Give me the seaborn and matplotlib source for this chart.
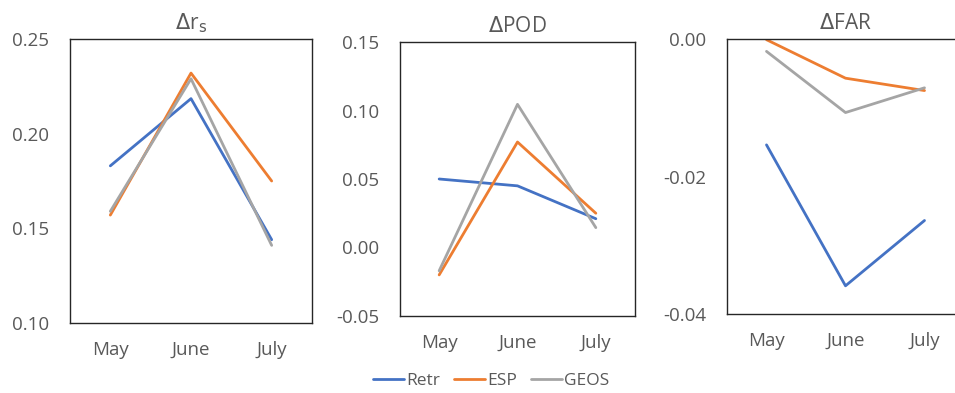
import pandas as pd
import matplotlib
matplotlib.use('Agg')
import matplotlib.pyplot as plt
import seaborn as sns

# data
months = ['May', 'June', 'July']
series = ['Retr', 'ESP', 'GEOS']

rs_retr = [0.183, 0.2185, 0.144]
rs_esp = [0.157, 0.232, 0.175]
rs_geos = [0.159, 0.229, 0.141]

pod_retr = [0.050, 0.045, 0.021]
pod_esp = [-0.020, 0.077, 0.025]
pod_geos = [-0.017, 0.1045, 0.0145]

far_retr = [-0.0154, -0.0359, -0.0264]
far_esp = [-0.0001, -0.0057, -0.0075]
far_geos = [-0.0018, -0.0107, -0.0071]

colors = {'Retr': '#4472C4', 'ESP': '#ED7D31', 'GEOS': '#A5A5A5'}


def _long(retr, esp, geos):
    rows = []
    for name, vals in zip(series, [retr, esp, geos]):
        for m, v in zip(months, vals):
            rows.append({'month': m, 'series': name, 'value': v})
    return pd.DataFrame(rows)


sns.set_style('white')
plt.rcParams['font.family'] = ['Open Sans', 'DejaVu Sans']

W, H = 955, 393
fig = plt.figure(figsize=(W / 100, H / 100), dpi=100)


def px_axes(left, top, right, bottom):
    return fig.add_axes([left / W, 1 - bottom / H, (right - left) / W, (bottom - top) / H])


panels = [
    (px_axes(70, 39, 312, 323), _long(rs_retr, rs_esp, rs_geos), r'$\Delta$r$_\mathrm{s}$',
     (0.10, 0.25), [0.10, 0.15, 0.20, 0.25], '{:.2f}'),
    (px_axes(400, 42, 635, 316), _long(pod_retr, pod_esp, pod_geos), r'$\Delta$POD',
     (-0.05, 0.15), [-0.05, 0.00, 0.05, 0.10, 0.15], '{:.2f}'),
    (px_axes(727, 39, 964, 314), _long(far_retr, far_esp, far_geos), r'$\Delta$FAR',
     (-0.04, 0.0), [-0.04, -0.02, 0.00], '{:.2f}'),
]

text_color = '#595959'

for ax, df, title, ylim, yticks, fmt in panels:
    sns.lineplot(data=df, x='month', y='value', hue='series', palette=colors,
                 linewidth=2.0, ax=ax, legend=False, sort=False)
    ax.set_xlim(-0.5, 2.5)
    ax.set_ylim(*ylim)
    ax.set_yticks(yticks)
    ax.set_yticklabels([fmt.format(t) for t in yticks])
    ax.set_xlabel('')
    ax.set_ylabel('')
    ax.set_title(title, fontsize=15, color=text_color, pad=7)
    ax.tick_params(axis='both', length=0, labelsize=13.5, labelcolor=text_color)
    ax.tick_params(axis='y', pad=15)
    ax.tick_params(axis='x', pad=13)
    for sp in ax.spines.values():
        sp.set_color('#262626')
        sp.set_linewidth(1.0)

# shared legend at bottom
handles = [plt.Line2D([], [], color=colors[s], linewidth=2.0) for s in series]
fig.legend(handles, series, loc='center', bbox_to_anchor=(491 / W, 1 - 381 / H), ncol=3,
           frameon=False, fontsize=12.5, handlelength=1.8, handletextpad=0.1,
           columnspacing=0.8, labelcolor=text_color)

plt.savefig('out.png', dpi=100)
